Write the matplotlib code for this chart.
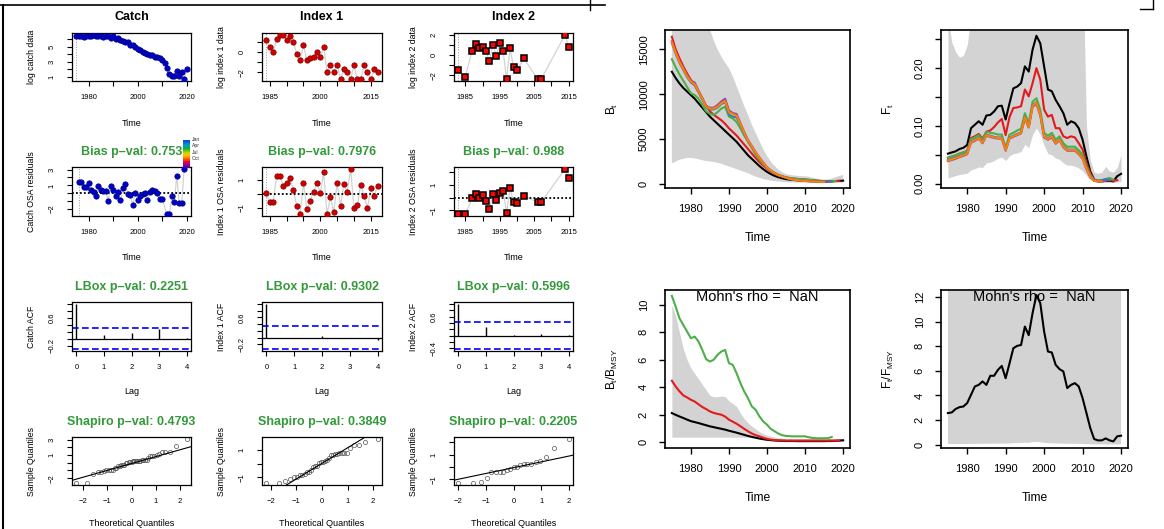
import statistics
import numpy as np
import matplotlib
matplotlib.use("Agg")
import matplotlib.pyplot as plt
from matplotlib.colors import ListedColormap
from matplotlib.lines import Line2D

plt.rcParams["font.family"] = ["Liberation Sans", "DejaVu Sans"]
plt.rcParams["mathtext.fontset"] = "custom"
plt.rcParams["mathtext.rm"] = "Liberation Sans"

W, H = 1164, 529
MINUS = "\u2212"

# ---------------- left block: data, residuals, ACF, QQ ----------------
catch_years = list(range(1975, 2021))
catch_log = [6.5, 6.4, 6.5, 6.3, 6.4, 6.5, 6.4, 6.6, 6.4, 6.5,
             6.4, 6.3, 6.5, 6.4, 6.2, 6.5, 6.0, 6.2, 5.9, 5.8,
             5.6, 5.7, 5.3, 5.2, 5.0, 4.7, 4.6, 4.3, 4.2, 4.1,
             3.9, 3.9, 3.7, 3.6, 3.5, 3.2, 2.8, 2.2, 1.4, 1.1,
             1.1, 1.8, 1.1, 1.6, 0.7, 2.0]

index1_years = list(range(1984, 2018))
index1_log = [1.2, 0.5, 0.0, 1.3, 1.7, 1.7, 1.2, 1.6, 1.0, -0.2,
              -0.8, 0.7, -0.8, -0.6, -0.5, 0.0, -0.5, 0.5, -2.0, -1.3,
              -2.0, -1.3, -2.7, -1.7, -2.0, -2.7, -1.3, -2.7, -2.7, -1.3,
              -2.0, -2.7, -1.7, -2.0]

index2_years = [1983, 1985, 1987, 1988, 1989, 1990, 1991, 1992, 1993, 1994,
                1995, 1996, 1997, 1998, 1999, 2000, 2002, 2006, 2007, 2014, 2015]
index2_log = [-1.5, -2.2, 0.43, 1.1, 0.67, 0.83, 0.37, -0.63, 1.0, -0.07,
              1.17, 0.37, -2.4, 0.67, -1.17, -1.5, -0.33, -2.4, -2.4, 2.0, 0.83]

catch_res_years = list(range(1976, 2011)) + list(range(2012, 2020))
catch_res = [1.39, 1.39, 0.83, 0.83, 1.35, 0.39, 0.17, -0.35, 0.96, 0.39,
             0.26, 0.26, -1.0, 0.91, 0.39, -0.35, 0.17, -0.91, 0.61, 1.17,
             -0.04, -0.26, -1.48, 0.04, -0.91, -0.39, -0.04, 0.09, -0.91, 0.17,
             0.39, 0.26, 0.04, -0.7, -0.7,
             -2.65, -2.65, -0.39, -1.13, 2.22, -1.26, -1.26, 3.1]
index1_res = [0.05, -0.6, -0.6, 1.33, 1.33, 0.6, 0.8, 1.13, 0.28, -0.85,
              -1.44, 0.8, -1.1, -0.49, 0.15, 0.8, 0.1, 1.56, -1.44, -0.23,
              -1.3, 0.8, -0.85, 0.74, 0.18, 1.82, -1.0, -0.8, 0.69, -0.15,
              -1.0, 0.41, -0.15, 0.6]
index2_res = [-1.3, -1.3, -0.03, 0.26, -0.03, 0.2, -0.23, -0.89, 0.26, -0.17,
              0.4, 0.49, -1.17, 0.77, -0.37, -0.43, 0.14, -0.37, -0.37, 2.26, 1.54]

lags = [0, 1, 2, 3, 4]
catch_acf = [1.0, 0.10, 0.15, 0.29, 0.01]
index1_acf = [1.0, -0.01, 0.04, 0.0, -0.07]
index2_acf = [1.0, 0.26, 0.02, 0.05, 0.02]
acf_ci = [0.30, 0.34, 0.43]

col_names = ["Catch", "Index 1", "Index 2"]
data_ylabels = ["log catch data", "log index 1 data", "log index 2 data"]
res_ylabels = ["Catch OSA residuals", "Index 1 OSA residuals", "Index 2 OSA residuals"]
acf_ylabels = ["Catch ACF", "Index 1 ACF", "Index 2 ACF"]
bias_p = ["0.753", "0.7976", "0.988"]
lbox_p = ["0.2251", "0.9302", "0.5996"]
shapiro_p = ["0.4793", "0.3849", "0.2205"]
months = ["Jan", "Apr", "Jul", "Oct"]

# ---------------- right block: retrospective runs ----------------
rt_years = list(range(1975, 2021))
bt_black = [12500, 11800, 11200, 10700, 10300, 9900, 9500, 9000, 8500, 8000,
            7500, 7100, 6700, 6300, 5900, 5500, 5100, 4700, 4200, 3700,
            3200, 2800, 2400, 2000, 1650, 1350, 1100, 900, 750, 630,
            540, 480, 440, 410, 390, 370, 350, 330, 310, 300,
            290, 290, 300, 320, 340, 370]
bt_red = [16400, 15000, 14000, 13100, 12300, 11600, 11000, 10300, 9500, 8700,
          8100, 7700, 7400, 7100, 6700, 6200, 5800, 5400, 4900, 4400,
          3900, 3400, 2900, 2450, 2050, 1700, 1400, 1150, 950, 820,
          720, 650, 600, 560, 530, 500, 460, 420, 380, 340,
          310, 300, 310, 330, 350]
bt_green = [13900, 13000, 12200, 11500, 10800, 10100, 9900, 9500, 8800, 8100,
            7800, 7700, 8000, 8400, 8600, 7500, 7300, 6900, 6200, 5400,
            4700, 4000, 3300, 2700, 2200, 1800, 1450, 1200, 1000, 850,
            740, 660, 600, 560, 520, 490, 450, 410, 370, 330,
            300, 290, 300, 320]
bt_blue = [15700, 14500, 13500, 12700, 11900, 11300, 11000, 10200, 9400, 8500,
           8300, 8300, 8500, 8900, 9100, 7700, 7500, 7400, 6600, 5600,
           4700, 4150, 3450, 2850, 2300, 1800, 1480, 1200, 990, 840,
           700, 560, 490, 430, 380, 340, 310, 290, 270, 260,
           260, 270, 290]
bt_purple = [15900, 14700, 13700, 12900, 12100, 11500, 11300, 10400, 9600, 8700,
             8500, 8500, 8800, 9200, 9500, 8200, 7900, 7800, 6800, 5800,
             4900, 4250, 3550, 2950, 2400, 1850, 1500, 1220, 1000, 850,
             710, 560, 490, 430, 380, 340, 310, 280, 260, 240,
             230, 240]
bt_orange = [15800, 14600, 13600, 12800, 12000, 11400, 11100, 10300, 9500, 8600,
             8400, 8400, 8600, 9000, 9200, 8000, 7800, 7600, 6700, 5700,
             4800, 4200, 3500, 2900, 2350, 1800, 1500, 1200, 1000, 850,
             700, 550, 480, 420, 370, 330, 300, 270, 250, 230,
             220]
bt_hi = [60000, 52000, 45000, 40000, 35000, 31000, 27000, 24000, 21000, 19000,
         17200, 16000, 15000, 14200, 13500, 12900, 12000, 10900, 9800, 8700,
         7700, 6600, 5700, 4800, 3900, 3100, 2500, 2000, 1600, 1300,
         1100, 1000, 950, 900, 870, 850, 800, 700, 600, 520,
         480, 500, 600, 750, 900, 1000]
bt_lo = [2300, 2500, 2700, 2800, 2900, 2900, 2850, 2750, 2650, 2550,
         2500, 2450, 2350, 2250, 2100, 1950, 1800, 1650, 1500, 1350,
         1200, 1000, 820, 680, 560, 460, 380, 320, 270, 230,
         200, 180, 170, 160, 155, 150, 150, 150, 150, 150,
         150, 150, 150, 150, 150, 150]

f_black = [0.052, 0.054, 0.056, 0.060, 0.062, 0.067, 0.096, 0.102, 0.108, 0.102,
           0.118, 0.119, 0.125, 0.134, 0.135, 0.111, 0.139, 0.165, 0.168, 0.174,
           0.203, 0.194, 0.232, 0.256, 0.243, 0.203, 0.163, 0.160, 0.145, 0.134,
           0.122, 0.102, 0.108, 0.105, 0.096, 0.076, 0.047, 0.021, 0.007, 0.004,
           0.004, 0.005, 0.005, 0.004, 0.013, 0.017]
f_red = [0.045, 0.047, 0.049, 0.052, 0.054, 0.057, 0.079, 0.082, 0.086, 0.078,
         0.090, 0.092, 0.098, 0.106, 0.112, 0.084, 0.115, 0.131, 0.132, 0.134,
         0.163, 0.151, 0.174, 0.200, 0.180, 0.128, 0.116, 0.119, 0.096, 0.096,
         0.082, 0.079, 0.082, 0.080, 0.070, 0.059, 0.036, 0.018, 0.007, 0.005,
         0.005, 0.006, 0.006, 0.005, 0.006]
f_green = [0.045, 0.047, 0.049, 0.052, 0.054, 0.056, 0.077, 0.080, 0.084, 0.076,
           0.090, 0.088, 0.087, 0.085, 0.085, 0.062, 0.085, 0.088, 0.092, 0.095,
           0.122, 0.105, 0.142, 0.148, 0.128, 0.088, 0.083, 0.088, 0.076, 0.082,
           0.070, 0.064, 0.064, 0.064, 0.058, 0.050, 0.030, 0.015, 0.006, 0.005,
           0.006, 0.008, 0.010, 0.007]
f_blue = [0.041, 0.043, 0.045, 0.048, 0.050, 0.053, 0.073, 0.076, 0.080, 0.072,
          0.085, 0.083, 0.081, 0.080, 0.080, 0.059, 0.080, 0.083, 0.086, 0.089,
          0.116, 0.099, 0.136, 0.141, 0.121, 0.083, 0.078, 0.083, 0.071, 0.077,
          0.065, 0.059, 0.059, 0.059, 0.053, 0.045, 0.027, 0.013, 0.006, 0.005,
          0.006, 0.008, 0.006]
f_purple = [0.039, 0.041, 0.043, 0.046, 0.048, 0.051, 0.071, 0.074, 0.078, 0.070,
            0.083, 0.081, 0.079, 0.078, 0.078, 0.057, 0.078, 0.081, 0.084, 0.087,
            0.113, 0.097, 0.133, 0.138, 0.118, 0.080, 0.076, 0.080, 0.069, 0.075,
            0.063, 0.057, 0.057, 0.057, 0.051, 0.043, 0.025, 0.011, 0.005, 0.004,
            0.004, 0.005]
f_orange = [0.040, 0.042, 0.044, 0.047, 0.049, 0.052, 0.072, 0.075, 0.079, 0.071,
            0.084, 0.082, 0.080, 0.079, 0.079, 0.058, 0.079, 0.082, 0.085, 0.088,
            0.115, 0.098, 0.135, 0.140, 0.120, 0.082, 0.077, 0.082, 0.070, 0.076,
            0.064, 0.058, 0.058, 0.058, 0.052, 0.044, 0.026, 0.012, 0.005, 0.004,
            0.004]
f_hi = [0.29, 0.245, 0.228, 0.219, 0.222, 0.24, 0.29, 0.33, 0.36, 0.38,
        0.40, 0.42, 0.44, 0.45, 0.46, 0.45, 0.47, 0.50, 0.52, 0.53,
        0.56, 0.55, 0.60, 0.62, 0.60, 0.56, 0.52, 0.50, 0.48, 0.46,
        0.45, 0.43, 0.43, 0.42, 0.41, 0.40, 0.10, 0.04, 0.02, 0.018,
        0.02, 0.03, 0.022, 0.02, 0.028, 0.05]
f_lo = [0.010, 0.012, 0.014, 0.016, 0.017, 0.018, 0.024, 0.026, 0.029, 0.028,
        0.036, 0.037, 0.040, 0.044, 0.046, 0.040, 0.048, 0.052, 0.053, 0.056,
        0.068, 0.062, 0.085, 0.096, 0.085, 0.066, 0.052, 0.050, 0.044, 0.042,
        0.036, 0.032, 0.032, 0.030, 0.027, 0.022, 0.014, 0.007, 0.003, 0.002,
        0.002, 0.002, 0.002, 0.002, 0.003, 0.004]

bb_black = [2.11, 1.98, 1.86, 1.75, 1.63, 1.52, 1.45, 1.38, 1.30, 1.22,
            1.14, 1.08, 1.02, 0.96, 0.90, 0.82, 0.75, 0.68, 0.60, 0.52,
            0.44, 0.37, 0.31, 0.25, 0.20, 0.16, 0.13, 0.11, 0.09, 0.08,
            0.07, 0.07, 0.07, 0.06, 0.06, 0.06, 0.06, 0.06, 0.06, 0.06,
            0.06, 0.07, 0.07, 0.08, 0.10, 0.12]
bb_red = [4.47, 4.05, 3.70, 3.40, 3.25, 3.08, 2.95, 2.75, 2.55, 2.40,
          2.23, 2.12, 2.05, 1.99, 1.85, 1.63, 1.48, 1.33, 1.15, 0.96,
          0.78, 0.62, 0.50, 0.41, 0.31, 0.22, 0.17, 0.14, 0.12, 0.11,
          0.10, 0.10, 0.10, 0.10, 0.10, 0.10, 0.10, 0.10, 0.10, 0.10,
          0.10, 0.10, 0.10, 0.10, 0.10]
bb_green = [10.66, 9.88, 9.03, 8.54, 8.06, 7.57, 7.69, 7.33, 6.72, 6.04,
            5.87, 6.00, 6.36, 6.60, 6.72, 5.75, 5.63, 5.02, 4.30, 3.69,
            3.20, 2.60, 2.35, 1.87, 1.50, 1.26, 0.95, 0.78, 0.61, 0.49,
            0.44, 0.42, 0.41, 0.41, 0.41, 0.41, 0.34, 0.29, 0.27, 0.27,
            0.27, 0.28, 0.36]
bb_hi = [10.0, 9.2, 8.0, 6.8, 6.0, 5.4, 5.0, 4.6, 4.2, 3.8,
         3.4, 3.3, 3.3, 3.35, 3.3, 3.0, 2.8, 2.6, 2.1, 1.7,
         1.4, 1.15, 0.95, 0.75, 0.6, 0.48, 0.42, 0.35, 0.3, 0.27,
         0.25, 0.25, 0.25, 0.25, 0.25, 0.25, 0.25, 0.25, 0.25, 0.25,
         0.25, 0.25, 0.25, 0.25, 0.25, 0.25]
bb_lo = [0.35, 0.35, 0.35, 0.35, 0.35, 0.35, 0.35, 0.35, 0.35, 0.35,
         0.35, 0.35, 0.35, 0.35, 0.35, 0.35, 0.35, 0.35, 0.35, 0.35,
         0.35, 0.35, 0.35, 0.35, 0.35, 0.30, 0.25, 0.20, 0.15, 0.10,
         0.08, 0.08, 0.08, 0.08, 0.08, 0.08, 0.08, 0.08, 0.08, 0.08,
         0.08, 0.08, 0.08, 0.08, 0.08, 0.08]

ff_black = [2.57, 2.62, 2.90, 3.05, 3.10, 3.38, 4.05, 4.73, 4.86, 5.14,
            4.86, 5.60, 5.60, 6.08, 6.40, 5.40, 6.60, 7.84, 8.03, 8.10,
            9.60, 8.90, 10.70, 12.16, 11.50, 9.20, 7.57, 7.49, 6.49, 6.14,
            5.95, 4.60, 4.86, 5.00, 4.73, 3.78, 2.57, 1.35, 0.46, 0.35,
            0.35, 0.51, 0.35, 0.27, 0.68, 0.73]
ff_hi = [30, 32, 35, 38, 40, 42, 45, 48, 50, 52,
         55, 58, 60, 62, 65, 66, 68, 70, 72, 74,
         75, 76, 78, 80, 80, 78, 76, 74, 72, 70,
         68, 66, 64, 62, 60, 58, 55, 52, 50, 48,
         46, 44, 42, 40, 38, 36]
ff_lo = [0.05, 0.05, 0.05, 0.05, 0.05, 0.05, 0.06, 0.06, 0.07, 0.07,
         0.07, 0.08, 0.08, 0.09, 0.09, 0.08, 0.10, 0.12, 0.13, 0.13,
         0.16, 0.15, 0.20, 0.22, 0.20, 0.15, 0.12, 0.11, 0.10, 0.09,
         0.08, 0.07, 0.07, 0.07, 0.06, 0.05, 0.04, 0.03, 0.02, 0.02,
         0.02, 0.02, 0.02, 0.02, 0.02, 0.02]

retro_colors = ["#000000", "#E41A1C", "#4DAF4A", "#377EB8", "#984EA3", "#FF7F00"]
green_title = "#33993a"
band_gray = "#D3D3D3"

fig = plt.figure(figsize=(W / 100, H / 100), dpi=100)


def px_ax(x0, y0, x1, y1):
    return fig.add_axes([x0 / W, 1 - y1 / H, (x1 - x0) / W, (y1 - y0) / H])


def ftext(x, y, s, **kw):
    fig.text(x / W, 1 - y / H, s, ha="center", va="center", **kw)


def fmt(v):
    s = ("%g" % v) if abs(v) >= 1 or v == 0 else ("%.1f" % v)
    return s.replace("-", MINUS)


def set_ticks(ax, xt, xlab, yt, ylab, yfmt=fmt):
    ax.set_xticks(xt)
    ax.set_xticklabels([fmt(t) if t in xlab else "" for t in xt])
    ax.set_yticks(yt)
    ax.set_yticklabels([yfmt(t) if any(abs(t - l) < 1e-9 for l in ylab) else "" for t in yt],
                       rotation=90, va="center")


def style_small(ax):
    for sp in ax.spines.values():
        sp.set_linewidth(0.9)
    ax.tick_params(axis="both", length=3.6, width=0.8, labelsize=5.5)
    ax.tick_params(axis="x", pad=6.0)
    ax.tick_params(axis="y", pad=8.0)
    ax.margins(0.04)


col_x = [(72, 191), (262, 382), (454, 573)]
row_y = [(33, 81), (167, 216), (302, 351), (437, 485)]
xlabel_rows = ["Time", "Time", "Lag", "Theoretical Quantiles"]

data_x = [catch_years, index1_years, index2_years]
data_y = [catch_log, index1_log, index2_log]
res_x = [catch_res_years, index1_years, index2_years]
res_y = [catch_res, index1_res, index2_res]
acfs = [catch_acf, index1_acf, index2_acf]

year_ticks = [(list(range(1980, 2021, 10)), [1980, 2000, 2020]),
              (list(range(1985, 2016, 5)), [1985, 2000, 2015]),
              (list(range(1985, 2016, 5)), [1985, 1995, 2005, 2015])]
data_yticks = [([1, 2, 3, 4, 5, 6], [1, 3, 5]),
               ([-2, -1, 0, 1], [-2, 0]),
               ([-2, -1, 0, 1, 2], [-2, 0, 2])]
res_yticks = [([-2, -1, 0, 1, 2, 3], [-2, 1, 3]),
              ([-1, 0, 1], [-1, 1]),
              ([-1, 0, 1, 2], [-1, 1])]
acf_yticks = [([-0.2, 0, 0.2, 0.4, 0.6, 0.8, 1.0], [-0.2, 0.6]),
              ([-0.2, 0, 0.2, 0.4, 0.6, 0.8, 1.0], [-0.2, 0.6]),
              ([-0.4, -0.2, 0, 0.2, 0.4, 0.6, 0.8, 1.0], [-0.4, 0.6])]
qq_yticks = [([-2, -1, 0, 1, 2, 3], [-2, 1, 3]),
             ([-1, 0, 1], [-1, 1]),
             ([-1, 0, 1, 2], [-1, 1])]
markers = [dict(marker="o", ms=3.8, mfc="#0000CD", mec="#00008B", mew=0.6),
           dict(marker="o", ms=3.8, mfc="#D00000", mec="#8B0000", mew=0.6),
           dict(marker="s", ms=4.6, mfc="#FF0000", mec="#000000", mew=1.1)]

nd = statistics.NormalDist()

for c in range(3):
    x0, x1 = col_x[c]
    cx = (x0 + x1) / 2
    ylab_x = x0 - 40
    # row 1: data
    y0, y1 = row_y[0]
    ax = px_ax(x0, y0, x1, y1)
    ax.plot(data_x[c], data_y[c], color="#D3D3D3", lw=0.9, zorder=1)
    ax.plot(data_x[c], data_y[c], ls="none", zorder=3, **markers[c])
    ax.axvline(data_x[c][0], color="#999999", lw=0.7, ls=":", zorder=0)
    style_small(ax)
    set_ticks(ax, year_ticks[c][0], year_ticks[c][1], data_yticks[c][0], data_yticks[c][1])
    xl = ax.get_xlim()
    ftext(cx, y0 - 16, col_names[c], fontsize=9, fontweight="bold")
    ftext(ylab_x, (y0 + y1) / 2, data_ylabels[c], fontsize=6.3, rotation=90)
    ftext(cx, y1 + 42, xlabel_rows[0], fontsize=6.5)

    # row 2: OSA residuals
    y0, y1 = row_y[1]
    ax = px_ax(x0, y0, x1, y1)
    ax.plot(res_x[c], res_y[c], color="#D3D3D3", lw=0.9, zorder=1)
    ax.plot(res_x[c], res_y[c], ls="none", zorder=3, **markers[c])
    ax.axhline(0, color="black", lw=1.3, ls=(0, (1, 1.2)), zorder=2)
    ax.axvline(res_x[c][0], color="#999999", lw=0.7, ls=":", zorder=0)
    style_small(ax)
    ax.set_xlim(xl)
    set_ticks(ax, year_ticks[c][0], year_ticks[c][1], res_yticks[c][0], res_yticks[c][1])
    ftext(cx, y0 - 15, "Bias p\u2013val: " + bias_p[c], fontsize=9, fontweight="bold",
          color=green_title)
    ftext(ylab_x, (y0 + y1) / 2, res_ylabels[c], fontsize=6.3, rotation=90)
    ftext(cx, y1 + 42, xlabel_rows[1], fontsize=6.5)

    # row 3: ACF
    y0, y1 = row_y[2]
    ax = px_ax(x0, y0, x1, y1)
    ax.vlines(lags, 0, acfs[c], color="black", lw=1.0)
    ax.axhline(0, color="black", lw=0.9)
    ax.axhline(acf_ci[c], color="#0000FF", lw=1.2, ls=(0, (4, 2)))
    ax.axhline(-acf_ci[c], color="#0000FF", lw=1.2, ls=(0, (4, 2)))
    ax.plot([lags[0], lags[-1]], [-acf_ci[c], 1.0], alpha=0)
    style_small(ax)
    set_ticks(ax, lags, lags, acf_yticks[c][0], acf_yticks[c][1],
              yfmt=lambda v: ("%.1f" % v).replace("-", MINUS))
    ftext(cx, y0 - 15, "LBox p\u2013val: " + lbox_p[c], fontsize=9, fontweight="bold",
          color=green_title)
    ftext(ylab_x, (y0 + y1) / 2, acf_ylabels[c], fontsize=6.3, rotation=90)
    ftext(cx, y1 + 40, xlabel_rows[2], fontsize=6.5)

    # row 4: normal QQ of the residuals
    y0, y1 = row_y[3]
    ax = px_ax(x0, y0, x1, y1)
    vals = sorted(res_y[c])
    n = len(vals)
    a = 0.375 if n <= 10 else 0.5
    theo = [nd.inv_cdf((i + 1 - a) / (n + 1 - 2 * a)) for i in range(n)]
    ax.plot(theo, vals, ls="none", marker="o", ms=3.0, mfc="none", mec="#555555", mew=0.5)
    q1, q3 = np.quantile(res_y[c], [0.25, 0.75])
    z1, z3 = nd.inv_cdf(0.25), nd.inv_cdf(0.75)
    slope = (q3 - q1) / (z3 - z1)
    ax.axline((0, q1 - slope * z1), slope=slope, color="black", lw=0.8)
    style_small(ax)
    set_ticks(ax, [-2, -1, 0, 1, 2], [-2, -1, 0, 1, 2], qq_yticks[c][0], qq_yticks[c][1])
    ftext(cx, y0 - 15, "Shapiro p\u2013val: " + shapiro_p[c], fontsize=9, fontweight="bold",
          color=green_title)
    ftext(ylab_x, (y0 + y1) / 2, "Sample Quantiles", fontsize=6.3, rotation=90)
    ftext(cx, y1 + 38, xlabel_rows[3], fontsize=6.5)

# month colour key next to the catch residual panel
month_cols = ["#0a4fd0", "#0a7fd0", "#00a8a8", "#00b050", "#5cc800", "#c8d400",
              "#ffc400", "#ff8c00", "#ff4000", "#e0004a", "#a00090", "#5a00a0"]
kax = px_ax(183, 140, 190, 168)
kax.imshow(np.arange(len(month_cols)).reshape(-1, 1), cmap=ListedColormap(month_cols),
           aspect="auto")
kax.set_axis_off()
for i, m in enumerate(months):
    fig.text(191.5 / W, 1 - (139.5 + i * 6.5) / H, m, fontsize=3.6, color="#333333",
             ha="left", va="center")

# ---------------- right block ----------------
r_cols = [(665, 850), (941, 1128)]
r_rows = [(30, 188), (290, 448)]


def right_panel(ax, lines, lo, hi, ylim, yticks, ylabels, ylab, cx, y0, y1, mohn):
    ax.fill_between(rt_years, lo, hi, color=band_gray, lw=0, zorder=0)
    for vals, col in lines:
        ax.plot(rt_years[:len(vals)], vals, color=col, lw=1.5)
    ax.set_xlim(1973.2, 2021.8)
    ax.set_ylim(*ylim)
    ax.set_xticks([1980, 1990, 2000, 2010, 2020])
    ax.set_xticklabels(["1980", "1990", "2000", "2010", "2020"])
    ax.set_yticks(yticks)
    ax.set_yticklabels(ylabels, rotation=90, va="center")
    for sp in ax.spines.values():
        sp.set_linewidth(1.2)
    ax.tick_params(axis="both", length=4.3, width=1.0, labelsize=8, pad=7.5)
    if mohn:
        ax.text(0.5, 0.955, "Mohn's rho =  NaN", transform=ax.transAxes, ha="center",
                va="center", fontsize=10.5)
    ftext(r_cols_x0 - 53, (y0 + y1) / 2, ylab, fontsize=8.5, rotation=90)
    ftext(cx, y1 + 50, "Time", fontsize=8.7)


(x0, x1), (y0, y1) = r_cols[0], r_rows[0]
r_cols_x0 = x0
ax = px_ax(x0, y0, x1, y1)
right_panel(ax, list(zip([bt_black, bt_red, bt_green, bt_blue, bt_purple, bt_orange], retro_colors)),
            bt_lo, bt_hi, (-450, 17150), [0, 5000, 10000, 15000],
            ["0", "5000", "10000", "15000"], r"$\mathregular{B_t}$", (x0 + x1) / 2, y0, y1, False)

(x0, x1), (y0, y1) = r_cols[1], r_rows[0]
r_cols_x0 = x0
ax = px_ax(x0, y0, x1, y1)
right_panel(ax, list(zip([f_black, f_red, f_green, f_blue, f_purple, f_orange], retro_colors)),
            f_lo, f_hi, (-0.0075, 0.266), [0, 0.05, 0.10, 0.15, 0.20, 0.25],
            ["0.00", "", "0.10", "", "0.20", ""], r"$\mathregular{F_t}$", (x0 + x1) / 2, y0, y1, False)

(x0, x1), (y0, y1) = r_cols[0], r_rows[1]
r_cols_x0 = x0
ax = px_ax(x0, y0, x1, y1)
right_panel(ax, list(zip([bb_black, bb_red, bb_green], retro_colors)),
            bb_lo, bb_hi, (-0.44, 11.09), [0, 2, 4, 6, 8, 10],
            ["0", "2", "4", "6", "8", "10"], r"$\mathregular{B_t/B_{MSY}}$", (x0 + x1) / 2, y0, y1, True)

(x0, x1), (y0, y1) = r_cols[1], r_rows[1]
r_cols_x0 = x0
ax = px_ax(x0, y0, x1, y1)
right_panel(ax, [(ff_black, retro_colors[0])],
            ff_lo, ff_hi, (-0.27, 12.57), [0, 2, 4, 6, 8, 10, 12],
            ["0", "2", "4", "6", "8", "10", "12"], r"$\mathregular{F_t/F_{MSY}}$", (x0 + x1) / 2, y0, y1, True)

# page edges visible in the screenshot
fig.add_artist(Line2D([3 / W, 3 / W], [0, 1 - 5 / H], color="black", lw=1.5))
fig.add_artist(Line2D([0, 605 / W], [1 - 5 / H, 1 - 5 / H], color="black", lw=1.2))
fig.add_artist(Line2D([590 / W, 590 / W], [1 - 10 / H, 1], color="black", lw=1.0))
fig.add_artist(Line2D([1153 / W, 1153 / W], [1 - 9 / H, 1], color="black", lw=1.0))
fig.add_artist(Line2D([1140 / W, 1153 / W], [1 - 9 / H, 1 - 9 / H], color="black", lw=1.0))

fig.savefig("out.png", dpi=100)
